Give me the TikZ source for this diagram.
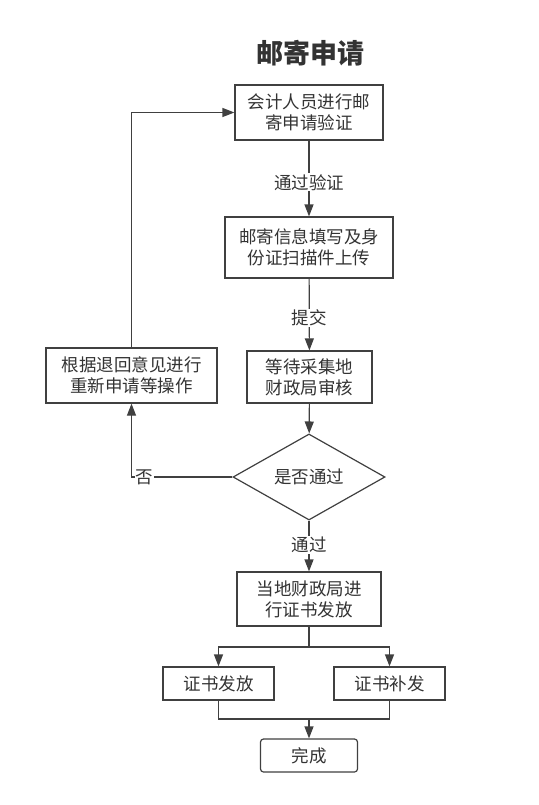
\documentclass[tikz,border=0pt]{standalone}
\usepackage{fontspec}
\newfontfamily\cjk{Noto Sans CJK SC}
\usetikzlibrary{arrows.meta,shapes.geometric}
\begin{document}
\begin{tikzpicture}[x=1pt,y=1pt]
    \tikzstyle{every node}+=[inner sep=0pt, text=black!80]
    \tikzstyle{box}=[draw=black!75, line width=1.2pt, fill=white, align=center, font=\cjk\fontsize{17.5}{21}\selectfont]
    \tikzstyle{edgetext}=[fill=white, inner sep=1pt, font=\cjk\fontsize{17.5}{21}\selectfont]
    \tikzstyle{flow}=[draw=black!75, line width=1.2pt, -{Triangle[width=9pt,length=12pt]}]
    \tikzstyle{wire}=[draw=black!75, line width=1.2pt]
    \useasboundingbox (0,0) rectangle (538,-805);
    \node (title) at (310,-53) {\cjk\bfseries\fontsize{27}{30}\selectfont 邮寄申请};
    \node [box, minimum width=148, minimum height=55] (verify) at (309,-112.5) {会计人员进行邮\\寄申请验证};
    \node [box, minimum width=168, minimum height=61] (fillin) at (309,-247.5) {邮寄信息填写及身\\份证扫描件上传};
    \node [box, minimum width=125, minimum height=52] (review) at (309.5,-377) {等待采集地\\财政局审核};
    \node [box, minimum width=171, minimum height=55] (redo) at (131.5,-375.5) {根据退回意见进行\\重新申请等操作};
    \node [box, shape=diamond, minimum width=152, minimum height=66] (pass) at (309,-477) {是否通过};
    \node [box, minimum width=144, minimum height=54] (issue) at (309,-599) {当地财政局进\\行证书发放};
    \node [box, minimum width=111, minimum height=33] (send) at (218.5,-683.5) {证书发放};
    \node [box, minimum width=111, minimum height=33] (resend) at (389.5,-683.5) {证书补发};
    \node [box, rounded corners=3pt, minimum width=97, minimum height=33] (done) at (309,-755.5) {完成};
    \coordinate (split) at (309,-647);
    \coordinate (join) at (309,-719);
    \draw [flow] (verify) -- node [edgetext, pos=0.55] {通过验证} (fillin);
    \draw [flow] (fillin) -- node [edgetext, pos=0.55] {提交} (review);
    \draw [flow] (review) -- (pass);
    \draw [flow] (pass.west) -- node [edgetext, pos=0.87] {否} (redo.south |- pass.west) -- (redo.south);
    \draw [flow] (redo.north) |- (verify.west);
    \draw [flow] (pass.south) -- node [edgetext, pos=0.48] {通过} (issue.north);
    \draw [wire] (issue.south) -- (split);
    \draw [flow] (split) -| (send.north);
    \draw [flow] (split) -| (resend.north);
    \draw [wire] (send.south) |- (join);
    \draw [wire] (resend.south) |- (join);
    \draw [flow] (join) -- (done.north);
\end{tikzpicture}
\end{document}
